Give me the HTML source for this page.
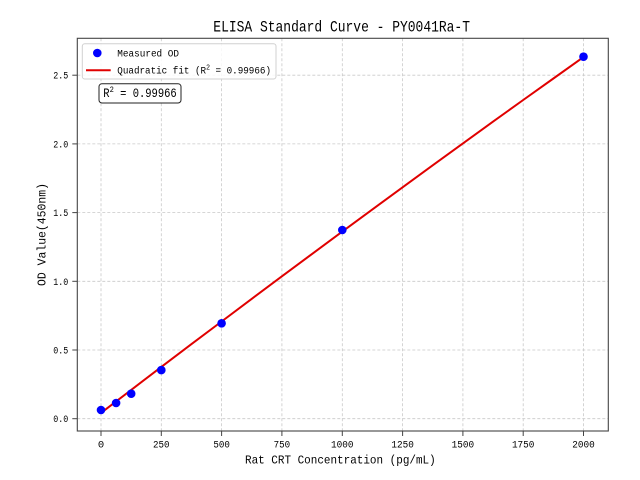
<!DOCTYPE html>
<html>
<head>
<meta charset="utf-8">
<style>
  html,body{margin:0;padding:0;background:#fff;}
  svg{display:block;}
  text{font-family:"Liberation Mono","Noto Sans CJK SC",monospace;fill:#000;}
</style>
</head>
<body>
<svg width="640" height="480" viewBox="0 0 640 480" xmlns="http://www.w3.org/2000/svg">
  <rect x="0" y="0" width="640" height="480" fill="#fff"/>

  <!-- grid -->
  <g stroke="#c9c9c9" stroke-width="0.8" stroke-dasharray="3,2" fill="none">
    <line x1="101" y1="38.3" x2="101" y2="431"/>
    <line x1="161.3" y1="38.3" x2="161.3" y2="431"/>
    <line x1="221.6" y1="38.3" x2="221.6" y2="431"/>
    <line x1="281.9" y1="38.3" x2="281.9" y2="431"/>
    <line x1="342.3" y1="38.3" x2="342.3" y2="431"/>
    <line x1="402.6" y1="38.3" x2="402.6" y2="431"/>
    <line x1="462.9" y1="38.3" x2="462.9" y2="431"/>
    <line x1="523.2" y1="38.3" x2="523.2" y2="431"/>
    <line x1="583.5" y1="38.3" x2="583.5" y2="431"/>
    <line x1="77.3" y1="418.7" x2="608.3" y2="418.7"/>
    <line x1="77.3" y1="350" x2="608.3" y2="350"/>
    <line x1="77.3" y1="281.3" x2="608.3" y2="281.3"/>
    <line x1="77.3" y1="212.6" x2="608.3" y2="212.6"/>
    <line x1="77.3" y1="143.9" x2="608.3" y2="143.9"/>
    <line x1="77.3" y1="75.2" x2="608.3" y2="75.2"/>
  </g>

  <!-- fit line -->
  <polyline fill="none" stroke="#e00000" stroke-width="2" stroke-linejoin="round"
    points="101,412.9 131.2,389.9 161.3,366.9 191.5,344.1 221.6,321.5 251.8,298.8 281.9,276.3 312.1,253.9 342.3,231.6 372.4,209.4 402.6,187.3 432.7,165.3 462.9,143.4 493.1,121.6 523.2,100.0 553.4,78.5 583.5,57.1"/>

  <!-- points -->
  <g fill="#0000ff">
    <circle cx="101" cy="410.0" r="4.3"/>
    <circle cx="116.1" cy="403.0" r="4.3"/>
    <circle cx="131.2" cy="393.7" r="4.3"/>
    <circle cx="161.3" cy="370.1" r="4.3"/>
    <circle cx="221.6" cy="323.3" r="4.3"/>
    <circle cx="342.3" cy="230.0" r="4.3"/>
    <circle cx="583.5" cy="56.7" r="4.3"/>
  </g>

  <!-- spines -->
  <rect x="77.3" y="38.3" width="531" height="392.7" fill="none" stroke="#444" stroke-width="1.1"/>

  <!-- ticks -->
  <g stroke="#444" stroke-width="1">
    <line x1="101" y1="431" x2="101" y2="436"/>
    <line x1="161.3" y1="431" x2="161.3" y2="436"/>
    <line x1="221.6" y1="431" x2="221.6" y2="436"/>
    <line x1="281.9" y1="431" x2="281.9" y2="436"/>
    <line x1="342.3" y1="431" x2="342.3" y2="436"/>
    <line x1="402.6" y1="431" x2="402.6" y2="436"/>
    <line x1="462.9" y1="431" x2="462.9" y2="436"/>
    <line x1="523.2" y1="431" x2="523.2" y2="436"/>
    <line x1="583.5" y1="431" x2="583.5" y2="436"/>
    <line x1="72.3" y1="418.7" x2="77.3" y2="418.7"/>
    <line x1="72.3" y1="350" x2="77.3" y2="350"/>
    <line x1="72.3" y1="281.3" x2="77.3" y2="281.3"/>
    <line x1="72.3" y1="212.6" x2="77.3" y2="212.6"/>
    <line x1="72.3" y1="143.9" x2="77.3" y2="143.9"/>
    <line x1="72.3" y1="75.2" x2="77.3" y2="75.2"/>
  </g>

  <!-- x tick labels -->
  <g font-size="10.5" text-anchor="middle">
    <text x="101" y="447.7">0</text>
    <text x="161.3" y="447.7" textLength="16.5" lengthAdjust="spacingAndGlyphs">250</text>
    <text x="221.6" y="447.7" textLength="16.5" lengthAdjust="spacingAndGlyphs">500</text>
    <text x="281.9" y="447.7" textLength="16.5" lengthAdjust="spacingAndGlyphs">750</text>
    <text x="342.3" y="447.7" textLength="22.5" lengthAdjust="spacingAndGlyphs">1000</text>
    <text x="402.6" y="447.7" textLength="22.5" lengthAdjust="spacingAndGlyphs">1250</text>
    <text x="462.9" y="447.7" textLength="22.5" lengthAdjust="spacingAndGlyphs">1500</text>
    <text x="523.2" y="447.7" textLength="22.5" lengthAdjust="spacingAndGlyphs">1750</text>
    <text x="583.5" y="447.7" textLength="22.5" lengthAdjust="spacingAndGlyphs">2000</text>
  </g>

  <!-- y tick labels -->
  <g font-size="10.5">
    <text x="53.3" y="422.2" textLength="15" lengthAdjust="spacingAndGlyphs">0.0</text>
    <text x="53.3" y="353.5" textLength="15" lengthAdjust="spacingAndGlyphs">0.5</text>
    <text x="53.3" y="284.8" textLength="15" lengthAdjust="spacingAndGlyphs">1.0</text>
    <text x="53.3" y="216.1" textLength="15" lengthAdjust="spacingAndGlyphs">1.5</text>
    <text x="53.3" y="147.4" textLength="15" lengthAdjust="spacingAndGlyphs">2.0</text>
    <text x="53.3" y="78.7" textLength="15" lengthAdjust="spacingAndGlyphs">2.5</text>
  </g>

  <!-- axis labels -->
  <text x="245" y="463.3" font-size="12" textLength="190.7" lengthAdjust="spacingAndGlyphs">Rat CRT Concentration (pg/mL)</text>
  <text transform="translate(45.7,286) rotate(-90)" x="0" y="0" font-size="12" textLength="103" lengthAdjust="spacingAndGlyphs">OD Value(450nm)</text>

  <!-- title -->
  <text x="213.3" y="31.7" font-size="16" textLength="256.7" lengthAdjust="spacingAndGlyphs">ELISA Standard Curve - PY0041Ra-T</text>

  <!-- legend -->
  <rect x="82.3" y="43.7" width="193.7" height="35.3" rx="2.5" ry="2.5" fill="#fff" fill-opacity="0.85" stroke="#d0d0d0" stroke-width="1"/>
  <circle cx="97.3" cy="53" r="4.3" fill="#0000ff"/>
  <line x1="86" y1="70.3" x2="110.7" y2="70.3" stroke="#e00000" stroke-width="2"/>
  <text x="117.3" y="56.3" font-size="10" textLength="61.7" lengthAdjust="spacingAndGlyphs">Measured OD</text>
  <text x="117.3" y="73.7" font-size="10" textLength="153.7" lengthAdjust="spacingAndGlyphs">Quadratic fit (R<tspan font-size="7" dy="-4">2</tspan><tspan dy="4"> = 0.99966)</tspan></text>

  <!-- R2 box -->
  <rect x="99" y="83.7" width="82" height="19.3" rx="3" ry="3" fill="#fff" stroke="#222" stroke-width="1"/>
  <text x="103.3" y="97" font-size="12.5" textLength="73.4" lengthAdjust="spacingAndGlyphs">R<tspan font-size="8.5" dy="-5">2</tspan><tspan dy="5"> = 0.99966</tspan></text>
</svg>
</body>
</html>
